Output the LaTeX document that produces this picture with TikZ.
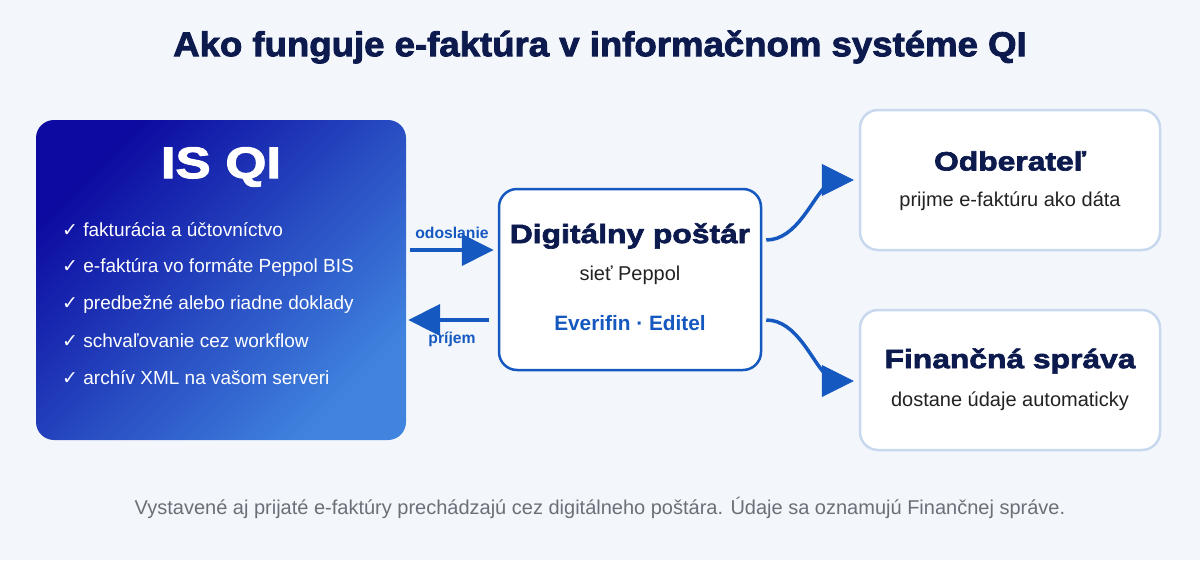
\documentclass[tikz,border=0pt]{standalone}
\usepackage{fontspec}
\setmainfont{Liberation Sans}
\newfontfamily\heavy[BoldFeatures={FakeBold=2.5,FakeStretch=1.2}]{Liberation Sans}
\newfontfamily\titlefont[BoldFeatures={FakeBold=2.5,FakeStretch=1.06}]{Liberation Sans}
\newfontfamily\sym{DejaVu Sans}
\usetikzlibrary{arrows.meta}
\definecolor{bg}{HTML}{F3F6FB}
\definecolor{navy}{HTML}{0C1A4E}
\definecolor{flowblue}{HTML}{1558C0}
\definecolor{gradA}{HTML}{0C0AA0}
\definecolor{gradB}{HTML}{4084DF}
\definecolor{lightedge}{HTML}{C8D8EE}
\definecolor{subtext}{HTML}{222222}
\definecolor{foottext}{HTML}{6B6F78}
\tikzset{
  isbox/.style={rectangle, rounded corners=18pt, minimum width=370pt, minimum height=320pt,
    top color=gradA, bottom color=gradB, shading angle=45, inner sep=0pt},
  midbox/.style={rectangle, rounded corners=18pt, minimum width=262pt, minimum height=181pt,
    draw=flowblue, line width=2.5pt, fill=white, inner sep=0pt},
  outbox/.style={rectangle, rounded corners=18pt, minimum width=300pt, minimum height=140pt,
    draw=lightedge, line width=2.5pt, fill=white, inner sep=0pt},
  heading/.style={text=navy, font=\heavy\bfseries\fontsize{26.5}{30}\selectfont, inner sep=0pt},
  subline/.style={text=subtext, font=\fontsize{20}{24}\selectfont, inner sep=0pt},
  listitem/.style={text=white, anchor=west, font=\fontsize{19}{23}\selectfont, inner sep=0pt},
  lbl/.style={text=flowblue, font=\bfseries\fontsize{15.7}{18}\selectfont, inner sep=0pt},
  flow/.style={draw=flowblue, line width=4pt, -{Triangle[length=32pt,width=31pt]}},
  curveline/.style={draw=flowblue, line width=3.5pt},
  curvehead/.style={draw=flowblue, line width=0.5pt, -{Triangle[length=32pt,width=32pt]}},
}
\begin{document}
\begin{tikzpicture}[x=1pt,y=-1pt]
\useasboundingbox[fill=bg] (0,0) rectangle (1200,560);
% title
\node[text=navy, font=\titlefont\bfseries\fontsize{34.5}{38}\selectfont, inner sep=0pt] (title) at (600,47) {Ako funguje e-faktúra v informačnom systéme QI};
% left box
\node[isbox] (isqi) at (221,280) {};
\node[text=white, font=\heavy\bfseries\fontsize{44}{48}\selectfont, inner sep=0pt] (isqititle) at (221,167) {IS QI};
\node[listitem] (l1) at (62,230) {{\sym ✓} fakturácia a účtovníctvo};
\node[listitem] (l2) at (62,267) {{\sym ✓} e-faktúra vo formáte Peppol BIS};
\node[listitem] (l3) at (62,304) {{\sym ✓} predbežné alebo riadne doklady};
\node[listitem] (l4) at (62,341) {{\sym ✓} schvaľovanie cez workflow};
\node[listitem] (l5) at (62,378) {{\sym ✓} archív XML na vašom serveri};
% middle box
\node[midbox] (post) at (630,279.5) {};
\node[heading] (posttitle) at (630,236) {Digitálny poštár};
\node[subline] (postsub) at (630,275) {sieť Peppol};
\node[lbl, font=\bfseries\fontsize{20.8}{24}\selectfont] (postfirms) at (630,323) {Everifin · Editel};
% right boxes
\node[outbox] (odb) at (1010,180) {};
\node[heading] (odbtitle) at (1010,161) {Odberateľ};
\node[subline] (odbsub) at (1010,201) {prijme e-faktúru ako dáta};
\node[outbox] (fin) at (1010,380) {};
\node[heading] (fintitle) at (1010,361) {Finančná správa};
\node[subline] (finsub) at (1010,401) {dostane údaje automaticky};
% flows
\draw[flow] ([xshift=4pt,yshift=30pt]isqi.east) -- ([xshift=-4pt,yshift=29.5pt]post.west);
\draw[flow] ([xshift=-9pt,yshift=-40.5pt]post.west) -- ([xshift=2pt,yshift=-40pt]isqi.east);
\node[lbl] (lsend) at (452,233) {odoslanie};
\node[lbl] (lrecv) at (452,339) {príjem};
\coordinate (k1) at (822.5,180);
\coordinate (k2) at (822.5,381);
\draw[curveline] ([xshift=4pt,yshift=39.5pt]post.east) .. controls (797,240) and (812,198) .. (827,185);
\draw[curvehead] (k1) -- ([xshift=-5pt]odb.west);
\draw[curveline] ([xshift=4pt,yshift=-40.5pt]post.east) .. controls (797,320) and (812,362) .. (827,376);
\draw[curvehead] (k2) -- ([xshift=-5pt,yshift=-1pt]fin.west);
% footer
\node[text=foottext, font=\fontsize{20}{24}\selectfont, inner sep=0pt] (foot) at (600,508) {Vystavené aj prijaté e-faktúry prechádzajú cez digitálneho poštára. Údaje sa oznamujú Finančnej správe.};
\end{tikzpicture}
\end{document}
